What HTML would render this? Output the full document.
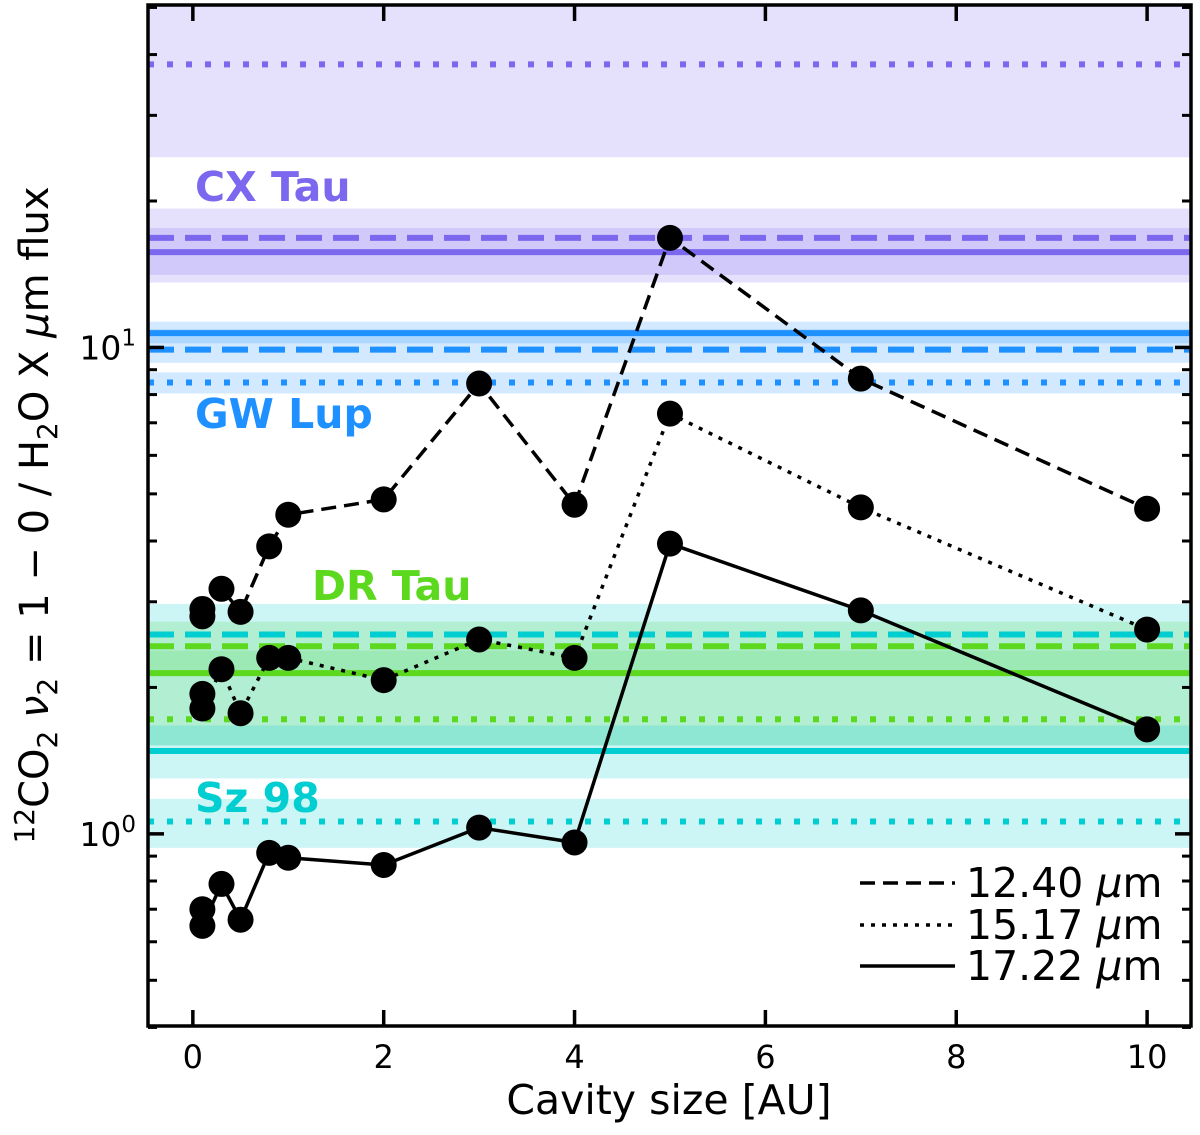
<!DOCTYPE html>
<html><head><meta charset="utf-8"><style>
html,body{margin:0;padding:0;background:#fff;}
svg text{font-family:"DejaVu Sans","Liberation Sans",sans-serif;}
</style></head><body>
<svg id="chart" width="1200" height="1130" viewBox="0 0 1200 1130" xmlns="http://www.w3.org/2000/svg">
<defs><clipPath id="clip"><rect x="148" y="5" width="1043" height="1021"/></clipPath></defs>
<g id="bands" clip-path="url(#clip)"></g>
<g id="reflines" clip-path="url(#clip)"></g>
<g id="series" clip-path="url(#clip)"></g>
<g id="axes"></g>
<g id="labels"></g>
<g id="legend"></g>
</svg>
<script>
// ---- data ----
const cavity = [0.1, 0.1, 0.3, 0.5, 0.8, 1, 2, 3, 4, 5, 7, 10];
const flux1240 = [2.80, 2.90, 3.19, 2.86, 3.90, 4.53, 4.87, 8.43, 4.75, 16.8, 8.63, 4.66];
const flux1517 = [1.94, 1.81, 2.18, 1.77, 2.30, 2.30, 2.07, 2.51, 2.30, 7.31, 4.69, 2.63];
const flux1722 = [0.70, 0.647, 0.789, 0.666, 0.914, 0.893, 0.863, 1.03, 0.96, 3.95, 2.88, 1.64];
const refNames = ["CX Tau","CX Tau","CX Tau","GW Lup","GW Lup","GW Lup","DR Tau","DR Tau","DR Tau","Sz 98","Sz 98","Sz 98"];
const refStyles = ["dashed","solid","dotted","solid","dashed","dotted","dashed","solid","dotted","dashed","solid","dotted"];
const refValues = [16.8, 15.7, 38.2, 10.7, 9.9, 8.47, 2.43, 2.14, 1.72, 2.57, 1.48, 1.06];
const refLow = [14.1, 13.6, 24.6, 10.2, 9.3, 8.04, 2.16, 1.90, 1.52, 1.52, 1.30, 0.936];
const refHigh = [19.3, 17.6, 80, 11.3, 10.9, 8.89, 2.73, 2.38, 1.90, 2.97, 1.67, 1.18];
const xTicks = [0, 2, 4, 6, 8, 10];
const yMajor = [1, 10];
const yMinor = [0.4,0.5,0.6,0.7,0.8,0.9,2,3,4,5,6,7,8,9,20,30,40,50];

// ---- scales ----
const X0=148, X1=1191, Y0=5, Y1=1026;
const xmin=-0.47, xmax=10.46;
const lmin=-0.395, lmax=1.704;
const xs = v => X0 + (v - xmin)/(xmax - xmin)*(X1 - X0);
const ys = v => Y1 - (Math.log10(v) - lmin)/(lmax - lmin)*(Y1 - Y0);
const NS="http://www.w3.org/2000/svg";
function mk(tag, attrs, parent){const e=document.createElementNS(NS,tag);for(const k in attrs)e.setAttribute(k,attrs[k]);parent.appendChild(e);return e;}
const colors = {"CX Tau":"#7b68ee","GW Lup":"#1e90ff","DR Tau":"#5cd81e","Sz 98":"#00ced1"};
const dash = {dashed:"26,11", dotted:"6,13", solid:""};

const gB=document.getElementById('bands'), gR=document.getElementById('reflines');
for(let i=0;i<refValues.length;i++){
  const c=colors[refNames[i]];
  const r=mk('rect',{x:X0,y:ys(refHigh[i]),width:X1-X0,height:ys(refLow[i])-ys(refHigh[i]),fill:c,'fill-opacity':0.2},gB);
  
  
  const l=mk('line',{x1:X0,x2:X1,y1:ys(refValues[i]),y2:ys(refValues[i]),stroke:c,'stroke-width':6},gR);
  if(dash[refStyles[i]]) l.setAttribute('stroke-dasharray',dash[refStyles[i]]);
  
  
}

const gS=document.getElementById('series');
const seriesList=[[flux1240,"dashed","12.40"],[flux1517,"dotted","15.17"],[flux1722,"solid","17.22"]];
seriesList.forEach(([vals,st,nm])=>{
  const pts=cavity.map((x,i)=>xs(x)+','+ys(vals[i])).join(' ');
  const pl=mk('polyline',{points:pts,fill:'none',stroke:'#000','stroke-width':3.5},gS);
  if(st==='dashed') pl.setAttribute('stroke-dasharray','15,8');
  if(st==='dotted') pl.setAttribute('stroke-dasharray','4,7');
  
  
  cavity.forEach((x,i)=>{
    const c=mk('circle',{cx:xs(x),cy:ys(vals[i]),r:13,fill:'#000'},gS);
    
    
  });
});

const gA=document.getElementById('axes');
const frame=mk('rect',{x:X0,y:Y0,width:X1-X0,height:Y1-Y0,fill:'none',stroke:'#000','stroke-width':3.5},gA);


xTicks.forEach(t=>{
  const x=xs(t);
  mk('line',{x1:x,x2:x,y1:Y1,y2:Y1-16,stroke:'#000','stroke-width':3.5},gA);
  mk('line',{x1:x,x2:x,y1:Y0,y2:Y0+16,stroke:'#000','stroke-width':3.5},gA);
  const tx=mk('text',{x:x,y:Y1+42,'text-anchor':'middle','font-size':32},gA);
  tx.textContent=t;
  
  
});
yMajor.forEach((t,i)=>{
  const y=ys(t);
  mk('line',{x1:X0,x2:X0+16,y1:y,y2:y,stroke:'#000','stroke-width':3.5},gA);
  mk('line',{x1:X1,x2:X1-16,y1:y,y2:y,stroke:'#000','stroke-width':3.5},gA);
  const tx=mk('text',{x:X0-12,y:y+12,'text-anchor':'end','font-size':33},gA);
  tx.innerHTML='10<tspan dy="-14" font-size="23">'+Math.round(Math.log10(t))+'</tspan>';
  
  
});
yMinor.forEach(t=>{
  const y=ys(t);
  mk('line',{x1:X0,x2:X0+9,y1:y,y2:y,stroke:'#000','stroke-width':3},gA);
  mk('line',{x1:X1,x2:X1-9,y1:y,y2:y,stroke:'#000','stroke-width':3},gA);
});
const xl=mk('text',{x:669,y:1114,'text-anchor':'middle','font-size':41},gA);
xl.textContent='Cavity size [AU]';


const yl=mk('text',{x:0,y:0,'text-anchor':'middle','font-size':40,transform:'translate(48,515) rotate(-90)'},gA);
yl.innerHTML='<tspan dy="-14" font-size="28">12</tspan><tspan dy="14">CO</tspan><tspan dy="9" font-size="28">2</tspan><tspan dy="-9"> </tspan><tspan font-style="italic">ν</tspan><tspan dy="9" font-size="28">2</tspan><tspan dy="-9"> = 1 − 0 / H</tspan><tspan dy="9" font-size="28">2</tspan><tspan dy="-9">O X </tspan><tspan font-style="italic">μ</tspan><tspan>m flux</tspan>';



const gL=document.getElementById('labels');
const labelNames=["CX Tau","GW Lup","DR Tau","Sz 98"];
const labelX=[195,195,312,195];
const labelY=[201,428,600,812];
labelNames.forEach((n,i)=>{
  const t=mk('text',{x:labelX[i],y:labelY[i],'font-size':41,'font-weight':'bold',fill:colors[n]},gL);
  t.textContent=n;
  
  
});

const gLg=document.getElementById('legend');
const legY=[883,925,966];
seriesList.forEach(([v,st,nm],i)=>{
  const l=mk('line',{x1:860,x2:955,y1:legY[i],y2:legY[i],stroke:'#000','stroke-width':3.5},gLg);
  if(st==='dashed') l.setAttribute('stroke-dasharray','15,8');
  if(st==='dotted') l.setAttribute('stroke-dasharray','4,7');
  
  
  const t=mk('text',{x:966,y:legY[i]+14,'font-size':41},gLg);
  t.innerHTML=nm+' <tspan font-style="italic">μ</tspan>m';
  
  
});
</script>
</body></html>
